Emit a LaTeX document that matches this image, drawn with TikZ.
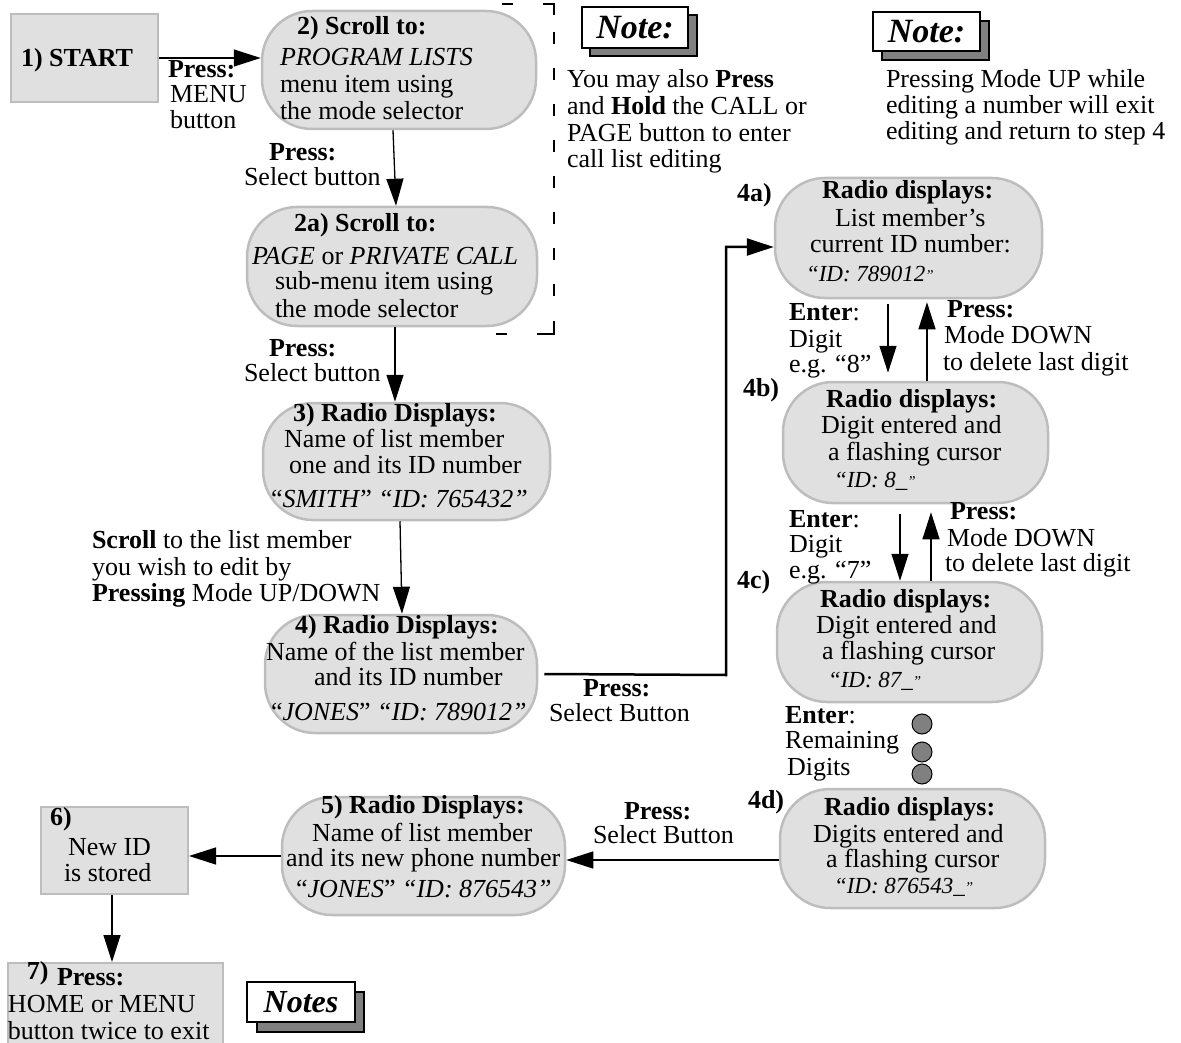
\documentclass[tikz,border=0pt]{standalone}
\usepackage{fontspec}
\setmainfont{Liberation Serif}
\usetikzlibrary{arrows.meta}
\definecolor{boxfill}{HTML}{E0E0E0}
\definecolor{boxline}{HTML}{BDBDBD}
\definecolor{shade}{HTML}{808080}
\newcommand{\fsz}{\fontsize{26}{27}\selectfont}
\newcommand{\idq}[1]{{\fontsize{23}{24}\selectfont\itshape “#1\raisebox{1pt}{\fontsize{15}{15}\selectfont ”}}}
\begin{document}
\begin{tikzpicture}[x=1pt,y=-1pt,
  tl/.style={anchor=base west, inner sep=0pt, outer sep=0pt, font=\fsz},
  rbox/.style={draw=boxline, line width=2.5pt, fill=boxfill, rounded corners=50pt, inner sep=0pt},
  sbox/.style={draw=boxline, line width=2pt, fill=boxfill, inner sep=0pt},
  arr/.style={line width=1.3pt, -{Triangle[length=27pt,width=17pt]}},
  thickarr/.style={line width=2.5pt, -{Triangle[length=27pt,width=17pt]}},
  notebox/.style={draw=black, fill=white, line width=1.5pt, inner sep=0pt, font=\fontsize{34}{34}\selectfont\bfseries\itshape},
  shadowrect/.style={draw=black, fill=shade, line width=1.3pt},
  dot/.style={circle, draw=black, fill=shade, line width=1pt, minimum size=20pt, inner sep=0pt},
  bracket/.style={line width=1.2pt},
  bracketdash/.style={line width=1.2pt, dash pattern=on 12pt off 24pt}
]
\useasboundingbox (0,0) rectangle (1181,1043);
\clip (0,0) rectangle (1181,1043);

% ---------- boxes ----------
\node[sbox, minimum width=147pt, minimum height=88pt] (b1) at (84.5,58) {};
\node[rbox, minimum width=274pt, minimum height=118pt] (b2) at (399,70) {};
\node[rbox, minimum width=290pt, minimum height=119pt] (b2a) at (392,266.5) {};
\node[rbox, minimum width=287pt, minimum height=117pt] (b3) at (406.5,461.5) {};
\node[rbox, minimum width=272pt, minimum height=118pt] (b4) at (401,674) {};
\node[rbox, minimum width=267pt, minimum height=120pt] (b4a) at (908.5,238) {};
\node[rbox, minimum width=265pt, minimum height=121pt] (b4b) at (915.5,442.5) {};
\node[rbox, minimum width=265pt, minimum height=120pt] (b4c) at (909.5,642) {};
\node[rbox, minimum width=265pt, minimum height=119pt] (b4d) at (912.5,848.5) {};
\node[rbox, minimum width=283pt, minimum height=118pt] (b5) at (423.5,856) {};
\node[sbox, minimum width=147pt, minimum height=87pt] (b6) at (114.5,850.5) {};
\node[sbox, minimum width=215pt, minimum height=107pt] (b7) at (115.5,1016.5) {};

% ---------- dashed bracket ----------
\draw[bracket] (502,4) -- (513,4);
\draw[bracket] (543,4) -- (554,4) -- (554,15);
\draw[bracketdash] (554,32) -- (554,300);
\draw[bracket] (554,321) -- (554,334) -- (537,334);
\draw[bracket] (496,334) -- (507,334);

% ---------- note boxes ----------
\draw[shadowrect] (590,15) rectangle (697,56);
\node[notebox, minimum width=106pt, minimum height=41pt] (n1) at (635,27.5) {Note:};
\draw[shadowrect] (882,21) rectangle (989,60);
\node[notebox, minimum width=107pt, minimum height=39pt] (n2) at (926.5,31.5) {Note:};
\draw[shadowrect] (257,992) rectangle (364,1032);
\node[notebox, font=\fontsize{32}{32}\selectfont\bfseries\itshape, minimum width=108pt, minimum height=40pt] (n3) at (301,1002) {Notes};

% ---------- connectors ----------
\draw[arr] (b1.east) -- (b1.east -| b2.west);
\draw[arr] ([xshift=-6pt]b2.south) -- ([xshift=4pt]b2a.north);
\draw[arr] ([xshift=3pt]b2a.south) -- ([xshift=3pt]b2a.south |- b3.north);
\draw[arr] ([xshift=-6.5pt]b3.south) -- ([xshift=1pt]b4.north);
\coordinate (k1) at (726,675);
\coordinate (k2) at (726,247);
\draw[thickarr] ([xshift=6pt]b4.east) -- (k1) -- (k2) -- (k2 -| b4a.west);
\draw[arr] ([xshift=-20.5pt,yshift=-5pt]b4a.south) -- ([xshift=-27.5pt,yshift=8pt]b4b.north);
\draw[arr] ([xshift=11.5pt]b4b.north) -- ([xshift=18.5pt,yshift=-3pt]b4a.south);
\draw[arr] ([xshift=-15.5pt,yshift=-10pt]b4b.south) -- ([xshift=-9.5pt]b4c.north);
\draw[arr] ([xshift=21.5pt]b4c.north) -- ([xshift=15.5pt,yshift=-8pt]b4b.south);
\draw[arr] ([yshift=-11.5pt]b4d.west) -- ([yshift=-11.5pt]b4d.west -| b5.east);
\draw[arr] (b5.west) -- (b5.west -| b6.east);
\draw[arr] ([xshift=-2.5pt]b6.south) -- ([xshift=-2.5pt]b6.south |- b7.north);

% ---------- dots ----------
\node[dot] (d1) at (922,724) {};
\node[dot] (d2) at (922,752) {};
\node[dot] (d3) at (922,774) {};

% ---------- texts ----------
\node[tl] (t1) at (21,67) {\textbf{1) START}};
\node[tl] (l1a) at (168,78) {\textbf{Press:}};
\node[tl] (l1b) at (170,103) {MENU};
\node[tl] (l1c) at (170,129) {button};

\node[tl] (t2a) at (297,35) {\textbf{2) Scroll to:}};
\node[tl] (t2b) at (280,66) {\textit{PROGRAM LISTS}};
\node[tl] (t2c) at (280,93) {menu item using};
\node[tl] (t2d) at (280,120) {the mode selector};
\node[tl] (l2a) at (269,161) {\textbf{Press:}};
\node[tl] (l2b) at (244,186) {Select button};

\node[tl] (t3a) at (294,232) {\textbf{2a) Scroll to:}};
\node[tl] (t3b) at (252,265) {\textit{PAGE} or \textit{PRIVATE CALL}};
\node[tl] (t3c) at (275,290) {sub-menu item using};
\node[tl] (t3d) at (275,317) {the mode selector};
\node[tl] (l3a) at (269,356) {\textbf{Press:}};
\node[tl] (l3b) at (244,381) {Select button};

\node[tl] (t4a) at (293,421) {\textbf{3) Radio Displays:}};
\node[tl] (t4b) at (284,447) {Name of list member};
\node[tl] (t4c) at (289,473) {one and its ID number};
\node[tl] (t4d) at (271,507) {“\textit{SMITH}” \textit{“ID: 765432”}};
\node[tl] (l4a) at (92,548) {\textbf{Scroll} to the list member};
\node[tl] (l4b) at (92,575) {you wish to edit by};
\node[tl] (l4c) at (92,601) {\textbf{Pressing} Mode UP/DOWN};

\node[tl] (t5a) at (295,633) {\textbf{4) Radio Displays:}};
\node[tl] (t5b) at (266,660) {Name of the list member};
\node[tl] (t5c) at (314,685) {and its ID number};
\node[tl] (t5d) at (271,720) {“\textit{JONES}” \textit{“ID: 789012”}};
\node[tl] (l5a) at (583,696) {\textbf{Press:}};
\node[tl] (l5b) at (549,721) {Select Button};

\node[tl] (m1a) at (567,88) {You may also \textbf{Press}};
\node[tl] (m1b) at (567,115) {and \textbf{Hold} the CALL or};
\node[tl] (m1c) at (567,142) {PAGE button to enter};
\node[tl] (m1d) at (567,168) {call list editing};
\node[tl] (m2a) at (886,88) {Pressing Mode UP while};
\node[tl] (m2b) at (886,114) {editing a number will exit};
\node[tl] (m2c) at (886,140) {editing and return to step 4};

\node[tl] (s4a) at (737,202) {\textbf{4a)}};
\node[tl] (t6a) at (822,199) {\textbf{Radio displays:}};
\node[tl] (t6b) at (835,227) {List member’s};
\node[tl] (t6c) at (810,253) {current ID number:};
\node[tl] (t6d) at (806,281) {\idq{ID: 789012}};
\node[tl] (l6a) at (789,320) {\textbf{Enter}:};
\node[tl] (l6b) at (789,347) {Digit};
\node[tl] (l6c) at (789,372) {e.g. “8”};
\node[tl] (l6d) at (947,317) {\textbf{Press:}};
\node[tl] (l6e) at (944,343) {Mode DOWN};
\node[tl] (l6f) at (943,370) {to delete last digit};

\node[tl] (s4b) at (743,396) {\textbf{4b)}};
\node[tl] (t7a) at (826,407) {\textbf{Radio displays:}};
\node[tl] (t7b) at (821,433) {Digit entered and};
\node[tl] (t7c) at (828,460) {a flashing cursor};
\node[tl] (t7d) at (834,487) {\idq{ID: 8\_}};
\node[tl] (l7a) at (789,527) {\textbf{Enter}:};
\node[tl] (l7b) at (789,552) {Digit};
\node[tl] (l7c) at (789,578) {e.g. “7”};
\node[tl] (l7d) at (950,519) {\textbf{Press:}};
\node[tl] (l7e) at (947,546) {Mode DOWN};
\node[tl] (l7f) at (945,571) {to delete last digit};

\node[tl] (s4c) at (737,588) {\textbf{4c)}};
\node[tl] (t8a) at (820,607) {\textbf{Radio displays:}};
\node[tl] (t8b) at (816,633) {Digit entered and};
\node[tl] (t8c) at (822,659) {a flashing cursor};
\node[tl] (t8d) at (828,687) {\idq{ID: 87\_}};
\node[tl] (l8a) at (785,723) {\textbf{Enter}:};
\node[tl] (l8b) at (785,748) {Remaining};
\node[tl] (l8c) at (787,775) {Digits};

\node[tl] (s4d) at (748,808) {\textbf{4d)}};
\node[tl] (t9a) at (824,815) {\textbf{Radio displays:}};
\node[tl] (t9b) at (813,842) {Digits entered and};
\node[tl] (t9c) at (826,867) {a flashing cursor};
\node[tl] (t9d) at (834,893) {\idq{ID: 876543\_}};
\node[tl] (l9a) at (624,819) {\textbf{Press:}};
\node[tl] (l9b) at (593,843) {Select Button};

\node[tl] (t10a) at (321,813) {\textbf{5) Radio Displays:}};
\node[tl] (t10b) at (312,841) {Name of list member};
\node[tl] (t10c) at (286,866) {and its new phone number};
\node[tl] (t10d) at (296,897) {“\textit{JONES}” \textit{“ID: 876543”}};

\node[tl] (t11a) at (50,825) {\textbf{6)}};
\node[tl] (t11b) at (68,855) {New ID};
\node[tl] (t11c) at (64,881) {is stored};

\node[tl] (t12a) at (27,979) {\textbf{7)}};
\node[tl] (t12b) at (57,985) {\textbf{Press:}};
\node[tl] (t12c) at (8,1012) {HOME or MENU};
\node[tl] (t12d) at (8,1039) {button twice to exit};
\end{tikzpicture}
\end{document}
